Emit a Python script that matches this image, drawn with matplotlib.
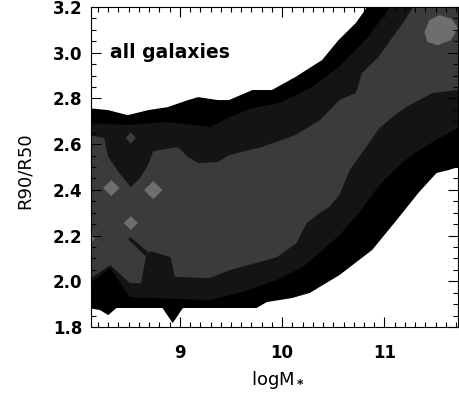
import numpy as np
import matplotlib.pyplot as plt
from matplotlib.ticker import MultipleLocator

# contour band edges (x = logM*, y = R90/R50)
# outer (black) band
outer_top_x = [8.10, 8.30, 8.49, 8.69, 8.88, 9.08, 9.18, 9.37, 9.48, 9.71, 9.90, 10.13, 10.39, 10.55, 10.72, 10.81, 10.87, 11.80]
outer_top_y = [2.758, 2.749, 2.727, 2.749, 2.762, 2.793, 2.806, 2.793, 2.793, 2.837, 2.837, 2.894, 2.968, 3.055, 3.130, 3.187, 3.23, 3.30]
outer_bot_x = [8.10, 8.22, 8.30, 8.38, 8.83, 8.93, 9.03, 9.75, 9.85, 10.10, 10.27, 10.43, 10.56, 10.88, 11.12, 11.34, 11.51, 11.63, 11.72, 11.80]
outer_bot_y = [1.883, 1.874, 1.852, 1.883, 1.883, 1.817, 1.883, 1.883, 1.909, 1.927, 1.949, 1.992, 2.027, 2.137, 2.268, 2.391, 2.474, 2.487, 2.500, 2.500]

# second (very dark) band
mid_top_x = [8.10, 8.49, 8.88, 9.29, 9.49, 9.71, 9.97, 10.29, 10.55, 10.84, 11.01, 11.10, 11.80]
mid_top_y = [2.692, 2.684, 2.697, 2.675, 2.719, 2.758, 2.780, 2.850, 2.937, 3.068, 3.173, 3.23, 3.30]
mid_bot_x = [8.10, 8.32, 8.51, 8.71, 9.29, 9.61, 9.95, 10.20, 10.40, 10.56, 10.76, 10.95, 11.18, 11.34, 11.54, 11.72, 11.80]
mid_bot_y = [1.984, 2.058, 1.931, 1.927, 1.918, 1.953, 2.006, 2.062, 2.137, 2.202, 2.303, 2.421, 2.522, 2.574, 2.627, 2.670, 2.680]

# third (dark grey) band
in_top_x = [8.10, 8.26, 8.30, 8.40, 8.52, 8.61, 8.69, 8.74, 8.98, 9.08, 9.18, 9.37, 9.48, 9.80, 10.13, 10.37, 10.56, 10.72, 10.78, 10.94, 11.20, 11.32, 11.80]
in_top_y = [2.640, 2.627, 2.544, 2.478, 2.412, 2.452, 2.509, 2.570, 2.587, 2.544, 2.517, 2.522, 2.552, 2.587, 2.640, 2.705, 2.793, 2.824, 2.911, 2.981, 3.143, 3.23, 3.30]
in_bot_x = [8.10, 8.32, 8.51, 8.62, 8.67, 8.71, 8.91, 8.95, 9.29, 9.49, 9.78, 9.95, 10.14, 10.24, 10.37, 10.46, 10.56, 10.66, 10.82, 10.95, 11.10, 11.21, 11.47, 11.72, 11.80]
in_bot_y = [2.006, 2.071, 1.992, 1.992, 2.111, 2.132, 2.106, 2.019, 2.014, 2.049, 2.084, 2.106, 2.167, 2.255, 2.299, 2.325, 2.377, 2.487, 2.587, 2.670, 2.727, 2.762, 2.824, 2.837, 2.837]

# small peaks (diamonds): centre x, centre y, half width, half height
peak_x = [8.33, 8.74, 8.52, 8.13]
peak_y = [2.408, 2.399, 2.255, 2.189]
peak_w = [0.08, 0.09, 0.07, 0.04]
peak_h = [0.035, 0.04, 0.03, 0.025]

# light patch top right
patch_x = [11.39, 11.44, 11.54, 11.66, 11.72, 11.65, 11.52, 11.42]
patch_y = [3.090, 3.143, 3.165, 3.147, 3.108, 3.055, 3.033, 3.047]

# thin very dark streak
streak_x = [8.49, 8.52, 8.71, 8.66]
streak_y = [2.185, 2.192, 2.120, 2.112]

c_black = '#000000'
c_vdark = '#141414'
c_dark = '#3b3b3b'
c_light = '#6e6e6e'


def band(ax, tx, ty, bx, by, color):
    xs = np.concatenate([tx, bx[::-1]])
    ys = np.concatenate([ty, by[::-1]])
    ax.fill(xs, ys, color=color, lw=0)


def main():
    plt.rcParams['font.family'] = 'DejaVu Sans'
    plt.rcParams['font.weight'] = 'bold'
    fig = plt.figure(figsize=(4.59, 3.93), dpi=100)
    ax = fig.add_axes([0.198, 0.168, 0.800, 0.814])

    band(ax, outer_top_x, outer_top_y, outer_bot_x, outer_bot_y, c_black)
    band(ax, mid_top_x, mid_top_y, mid_bot_x, mid_bot_y, c_vdark)
    band(ax, in_top_x, in_top_y, in_bot_x, in_bot_y, c_dark)
    ax.fill(streak_x, streak_y, color=c_vdark, lw=0)

    for px, py, w, h in zip(peak_x, peak_y, peak_w, peak_h):
        ax.fill([px - w, px, px + w, px], [py, py + h, py, py - h], color=c_light, lw=0)
    ax.fill([8.47, 8.52, 8.57, 8.52], [2.627, 2.652, 2.627, 2.602], color=c_dark, lw=0)
    ax.fill(patch_x, patch_y, color=c_light, lw=0)

    ax.set_xlim(8.13, 11.72)
    ax.set_ylim(1.8, 3.2)
    ax.xaxis.set_major_locator(MultipleLocator(1))
    ax.xaxis.set_minor_locator(MultipleLocator(0.1))
    ax.yaxis.set_major_locator(MultipleLocator(0.2))
    ax.yaxis.set_minor_locator(MultipleLocator(0.05))
    ax.tick_params(which='both', direction='in', top=True, right=True, width=0.8, labelsize=12)
    ax.tick_params(which='major', length=7)
    ax.tick_params(which='minor', length=3.5)
    ax.tick_params(axis='x', pad=12)
    ax.tick_params(axis='y', pad=6)
    for s in ax.spines.values():
        s.set_linewidth(0.8)

    ax.set_xlabel(r'logM$_*$', fontsize=13)
    ax.xaxis.set_label_coords(0.51, -0.13)
    ax.set_ylabel('R90/R50', fontsize=13)
    ax.yaxis.set_label_coords(-0.155, 0.49)

    ax.text(0.052, 0.84, 'all galaxies', transform=ax.transAxes, fontsize=13.5,
            va='baseline', ha='left')

    fig.savefig('out.png', dpi=100)


if __name__ == '__main__':
    main()
